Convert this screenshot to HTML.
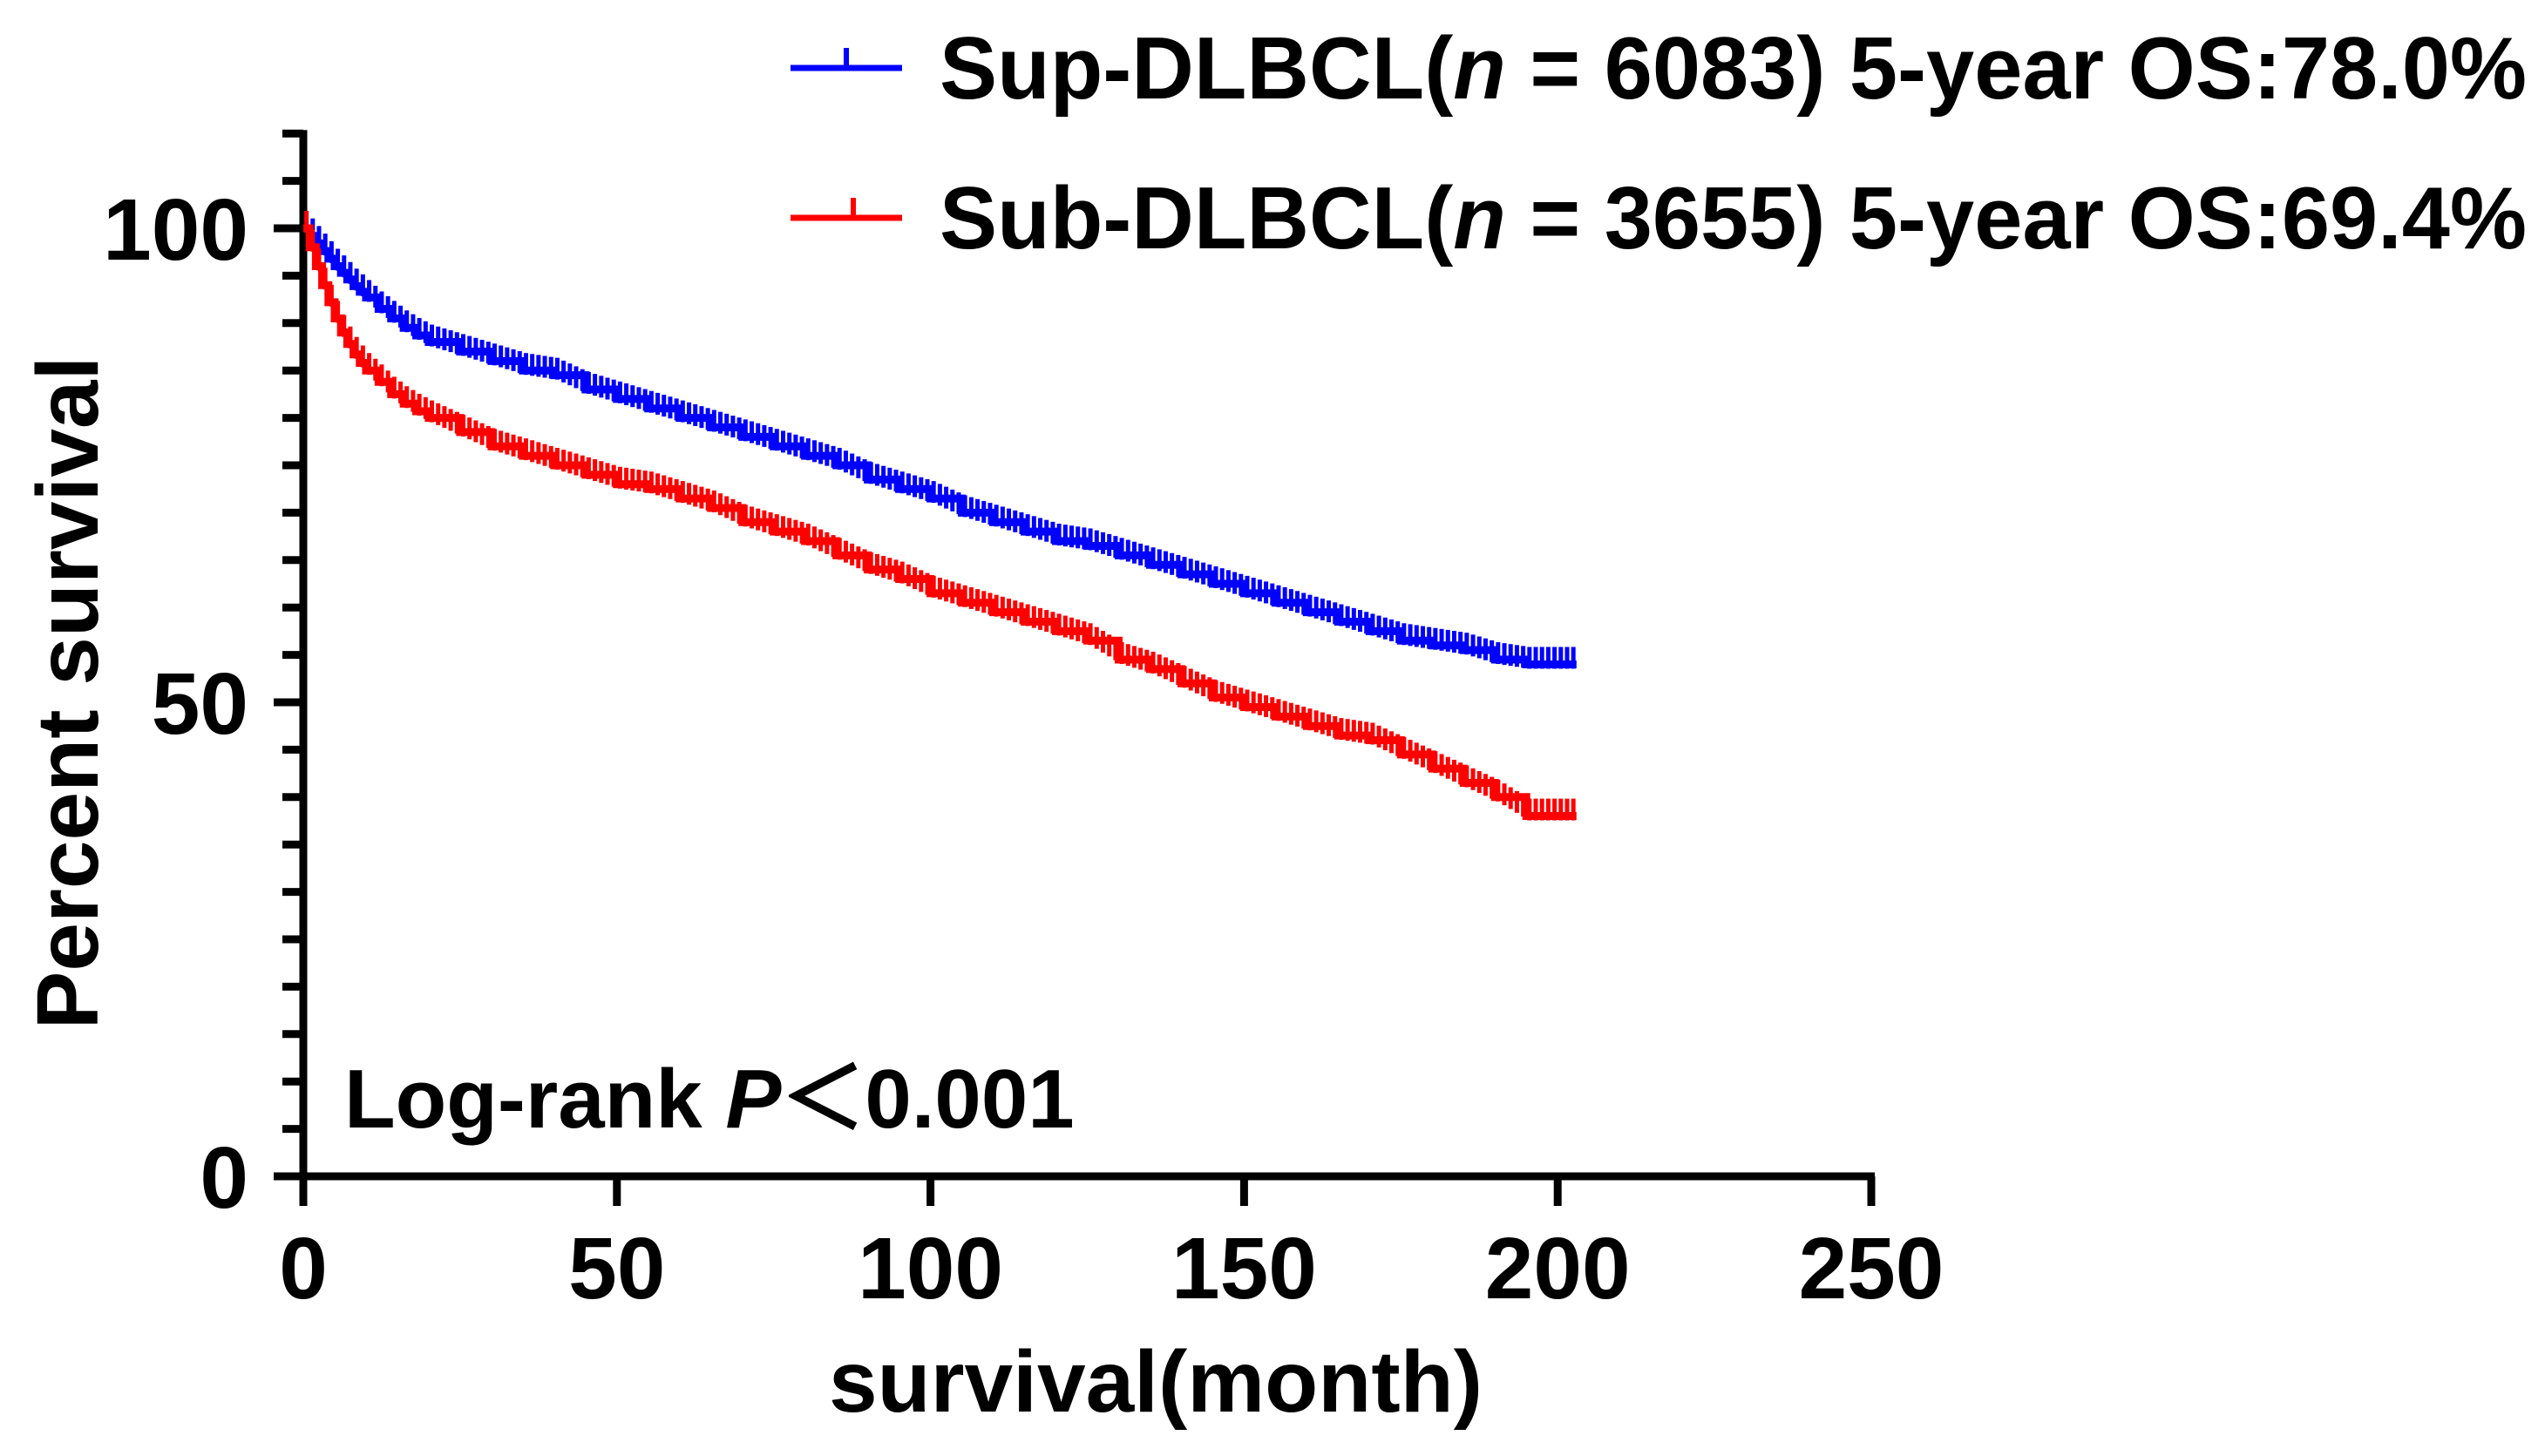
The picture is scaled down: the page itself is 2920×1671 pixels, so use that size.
<!DOCTYPE html>
<html><head><meta charset="utf-8"><style>
html,body{margin:0;padding:0;background:#fff;}
svg{display:block;font-family:"Liberation Sans",Arial,sans-serif;font-weight:bold;}
</style></head><body>
<svg id="chart" width="2920" height="1671" viewBox="0 0 2920 1671" xmlns="http://www.w3.org/2000/svg">
<g id="axes"></g>
<g id="series"></g>
<g>
 <g>
  <line x1="907" y1="78" x2="1035" y2="78" stroke="#0000ff" stroke-width="7"/>
  <line x1="971" y1="55" x2="971" y2="78" stroke="#0000ff" stroke-width="6"/>
  <text x="1078" y="113" font-size="101" textLength="1821" lengthAdjust="spacingAndGlyphs">Sup-DLBCL(<tspan font-style="italic">n</tspan> = 6083) 5-year OS:78.0%</text>
 </g>
 <g>
  <line x1="907" y1="250" x2="1035" y2="250" stroke="#ff0000" stroke-width="7"/>
  <line x1="979" y1="227" x2="979" y2="250" stroke="#ff0000" stroke-width="6"/>
  <text x="1078" y="285" font-size="101" textLength="1821" lengthAdjust="spacingAndGlyphs">Sub-DLBCL(<tspan font-style="italic">n</tspan> = 3655) 5-year OS:69.4%</text>
 </g>
</g>
<text x="395" y="1294" font-size="96">Log-rank <tspan font-style="italic">P</tspan>＜0.001</text>
<text x="1326" y="1620" font-size="100" text-anchor="middle">survival(month)</text>
<text transform="translate(112,795) rotate(-90)" font-size="100" text-anchor="middle">Percent survival</text>
</svg>
<script>
const months = [0,1,2,3,4,5,6,7,8,9,10,12,14,16,18,20,25,30,35,40,45,50,55,60,65,70,75,80,85,90,95,100,105,110,115,120,125,130,135,140,145,150,155,160,165,170,175,180,185,190,195,200,203];
const supSurvival = [100,99.2,98.4,97.6,96.8,96,95.3,94.6,93.9,93.3,92.7,91.5,90.5,89.5,88.7,88,87,86,85,84.5,83,82,81,80,79,78,77,76,75,73.5,72.5,71.5,70,69,68,67,66.5,65.5,64.5,63.5,62.5,61.5,60.5,59.5,58.5,57.5,56.5,56,55.5,54.5,54,54,54];
const subSurvival = [100,98,96,94,92.2,90.5,89,87.8,86.7,85.8,85,83.8,82.5,81.5,80.7,80,78.5,77,76,75,74,73,72.5,71.5,70.5,69,68,67,65.5,64,63,61.5,60.5,59.5,58.5,57.5,56.5,54.5,53.5,52,50.5,49.5,48.5,47.5,46.5,46,44.5,43,41.5,40,38,38,38];
const xTicks = [0,50,100,150,200,250];
const yMajorTicks = [0,50,100];

const NS="http://www.w3.org/2000/svg";
const X0=348,X1=2147,Y0=1350,Y100=262;
const xs=v=>X0+(X1-X0)*v/250;
const ys=v=>Y0-(Y0-Y100)*v/100;
function mk(tag,attrs,parent){const e=document.createElementNS(NS,tag);for(const k in attrs)e.setAttribute(k,attrs[k]);parent.appendChild(e);return e;}
const axes=document.getElementById('axes');
let e;
e=mk('line',{x1:X0,y1:ys(110)-4,x2:X0,y2:Y0+4,stroke:'#000','stroke-width':9},axes);


e=mk('line',{x1:X0-4,y1:Y0,x2:X1+4,y2:Y0,stroke:'#000','stroke-width':9},axes);


for(let v=0;v<=110;v+=5){
  const major=yMajorTicks.includes(v);
  e=mk('line',{x1:major?X0-34:X0-24,y1:ys(v),x2:X0,y2:ys(v),stroke:'#000','stroke-width':9},axes);
  
  
}
yMajorTicks.forEach(v=>{
  e=mk('text',{x:285,y:ys(v)+36,'font-size':100,'text-anchor':'end'},axes);
  e.textContent=v;
  
  
});
xTicks.forEach(v=>{
  e=mk('line',{x1:xs(v),y1:Y0,x2:xs(v),y2:Y0+34,stroke:'#000','stroke-width':9},axes);
  
  
  e=mk('text',{x:xs(v),y:1490,'font-size':100,'text-anchor':'middle'},axes);
  e.textContent=v;
  
  
});
const series=document.getElementById('series');
function draw(vals,color,name){
  let d='M'+xs(months[0])+','+ys(vals[0]);
  for(let i=1;i<months.length;i++){d+=' H'+xs(months[i])+' V'+ys(vals[i]);}
  const p=mk('path',{d:d,fill:'none',stroke:color,'stroke-width':9},series);
  
  
  const g=mk('g',{stroke:color,'stroke-width':5},series);
  
  
  for(let i=0;i<months.length-1;i++){
    const m0=months[i],m1=months[i+1];
    const n=Math.max(1,Math.round(m1-m0));
    for(let k=0;k<n;k++){
      const m=m0+(m1-m0)*(k+0.5)/n;
      const y=ys(vals[i]+(vals[i+1]-vals[i])*k/n);
      mk('line',{x1:xs(m),y1:y-20,x2:xs(m),y2:y+5},g);
    }
  }
}
draw(supSurvival,'#0000ff','sup-dlbcl');
draw(subSurvival,'#ff0000','sub-dlbcl');
</script>
</body></html>
